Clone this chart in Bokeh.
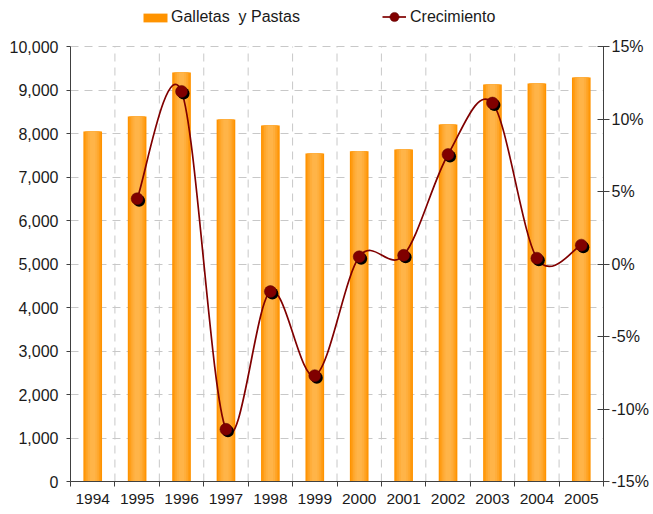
from bokeh.plotting import figure
from bokeh.models import (Range1d, LinearAxis, FixedTicker, NumeralTickFormatter,
                          Legend, LegendItem, ColumnDataSource, Grid)
from bokeh.transform import dodge
from bokeh.embed import file_html
from bokeh.resources import INLINE

# ---- data ----
years = ["1994", "1995", "1996", "1997", "1998", "1999",
         "2000", "2001", "2002", "2003", "2004", "2005"]
galletas = [8046, 8391, 9402, 8322, 8184, 7540, 7593, 7632, 8207, 9126, 9149, 9287]
growth_years = years[1:]
growth = [0.045, 0.119, -0.114, -0.019, -0.077, 0.005, 0.006, 0.0755, 0.111, 0.004, 0.013]
left_ticks = [0, 1000, 2000, 3000, 4000, 5000, 6000, 7000, 8000, 9000, 10000]
right_ticks = [-0.15, -0.10, -0.05, 0.0, 0.05, 0.10, 0.15]

FONT = "Liberation Sans"
TXT = "#1a1a1a"
AX = "#404040"
GRID = "#c8c8c8"

# layout (pixels): plot area 435 px tall, with 46 px of headroom for the legend
AREA_H = 435
HEAD = 46
FRAME_H = AREA_H + HEAD
stretch = FRAME_H / AREA_H

n = len(years)
xc = [i + 0.5 for i in range(n)]
idx = {y: i for i, y in enumerate(years)}
gx = [idx[y] + 0.5 for y in growth_years]

y0, y1 = left_ticks[0], left_ticks[-1]
r0, r1 = right_ticks[0], right_ticks[-1]

p = figure(width=651, height=FRAME_H + 31, output_backend="svg", toolbar_location=None, title=None,
           x_range=Range1d(0, n), y_range=Range1d(y0, y0 + (y1 - y0) * stretch),
           x_axis_type=None, y_axis_type=None,
           min_border_left=70, min_border_right=47, min_border_top=0, min_border_bottom=31)
p.outline_line_color = None
p.background_fill_color = "white"
p.extra_y_ranges = {"pct": Range1d(r0, r0 + (r1 - r0) * stretch)}

# grids
hg = Grid(dimension=1, ticker=FixedTicker(ticks=left_ticks[1:]),
          grid_line_color=GRID, grid_line_dash="8 6", grid_line_width=1)
p.add_layout(hg)
bounds_x = list(range(1, n))
p.segment(x0=bounds_x, y0=[y0] * len(bounds_x), x1=bounds_x, y1=[y1] * len(bounds_x),
          line_color=GRID, line_dash="8 6", line_width=1, level="underlay")

# axes
xax = LinearAxis(ticker=FixedTicker(ticks=xc, minor_ticks=list(range(0, n + 1))),
                 major_label_overrides={x: y for x, y in zip(xc, years)})
xax.major_tick_line_color = None
xax.major_tick_out = 5
xax.major_tick_in = 0
xax.minor_tick_out = 5
xax.minor_tick_in = 0
xax.minor_tick_line_color = AX
xax.axis_line_color = AX
xax.major_label_standoff = 7
xax.major_label_text_font = FONT
xax.major_label_text_font_size = "15.5px"
xax.major_label_text_color = TXT
p.add_layout(xax, "below")

yax = LinearAxis(ticker=FixedTicker(ticks=left_ticks), formatter=NumeralTickFormatter(format="0,0"),
                 bounds=(y0, y1))
yax.major_tick_out = 4
yax.major_tick_in = 0
yax.minor_tick_line_color = None
yax.axis_line_color = AX
yax.major_tick_line_color = AX
yax.major_label_standoff = 8
yax.major_label_text_font = FONT
yax.major_label_text_font_size = "16px"
yax.major_label_text_color = TXT
p.add_layout(yax, "left")

rax = LinearAxis(y_range_name="pct", ticker=FixedTicker(ticks=right_ticks),
                 formatter=NumeralTickFormatter(format="0%"), bounds=(r0, r1))
rax.major_tick_out = 6
rax.major_tick_in = 6
rax.minor_tick_line_color = None
rax.axis_line_color = AX
rax.major_tick_line_color = AX
rax.major_label_standoff = 2
rax.major_label_text_font = FONT
rax.major_label_text_font_size = "16px"
rax.major_label_text_color = TXT
p.add_layout(rax, "right")

# bars with a horizontal gradient imitation
bsrc = ColumnDataSource(dict(x=xc, v=galletas))
layers = [(0.42, "#FF9300"), (0.36, "#FF9C14"), (0.29, "#FFA62A"), (0.21, "#FFAE3C"), (0.12, "#FFB448")]
bar_renderers = []
for w, c in layers:
    r = p.vbar(x="x", top="v", bottom=0, width=w, source=bsrc,
               fill_color=c, line_color=None)
    bar_renderers.append(r)

# smoothed growth curve (Catmull-Rom -> cubic Bezier from data points)
m = len(growth)
bx0, by0, bx1, by1, bcx0, bcy0, bcx1, bcy1 = [], [], [], [], [], [], [], []
for i in range(m - 1):
    im = i - 1 if i > 0 else i
    ip = i + 2 if i + 2 < m else i + 1
    bx0.append(gx[i]); by0.append(growth[i])
    bx1.append(gx[i + 1]); by1.append(growth[i + 1])
    bcx0.append(gx[i] + (gx[i + 1] - gx[im]) / 6.0)
    bcy0.append(growth[i] + (growth[i + 1] - growth[im]) / 6.0)
    bcx1.append(gx[i + 1] - (gx[ip] - gx[i]) / 6.0)
    bcy1.append(growth[i + 1] - (growth[ip] - growth[i]) / 6.0)
csrc = ColumnDataSource(dict(x0=bx0, y0=by0, x1=bx1, y1=by1, cx0=bcx0, cy0=bcy0, cx1=bcx1, cy1=bcy1))
curve = p.bezier(x0="x0", y0="y0", x1="x1", y1="y1", cx0="cx0", cy0="cy0", cx1="cx1", cy1="cy1",
                 source=csrc, y_range_name="pct", line_color="#800000", line_width=1.7)

gsrc = ColumnDataSource(dict(x=gx, g=growth))
shadow = p.scatter(x=dodge("x", 0.045, range=p.x_range), y=dodge("g", -0.0014),
                   source=gsrc, y_range_name="pct", size=12, marker="circle",
                   fill_color="black", line_color=None)
marks = p.scatter(x="x", y="g", source=gsrc, y_range_name="pct", size=12, marker="circle",
                  fill_color="#800000", line_color="#5a0000", line_width=0.5)

# legends in the headroom at the top of the frame
leg1 = Legend(items=[LegendItem(label="Galletas  y Pastas", renderers=[bar_renderers[0]])],
              location=(70, FRAME_H - 8 - 18), orientation="horizontal",
              glyph_width=30, glyph_height=11, label_height=18, label_standoff=1,
              padding=0, margin=0, border_line_color=None, background_fill_alpha=0,
              label_text_font=FONT, label_text_font_size="16px", label_text_color=TXT)
leg2 = Legend(items=[LegendItem(label="Crecimiento", renderers=[curve, marks])],
              location=(312, FRAME_H - 5 - 23), orientation="horizontal",
              glyph_width=24, glyph_height=23, label_height=18, label_standoff=4,
              padding=0, margin=0, border_line_color=None, background_fill_alpha=0,
              label_text_font=FONT, label_text_font_size="16px", label_text_color=TXT)
p.add_layout(leg1, "center")
p.add_layout(leg2, "center")

open("out.html", "w").write(file_html(p, INLINE))
